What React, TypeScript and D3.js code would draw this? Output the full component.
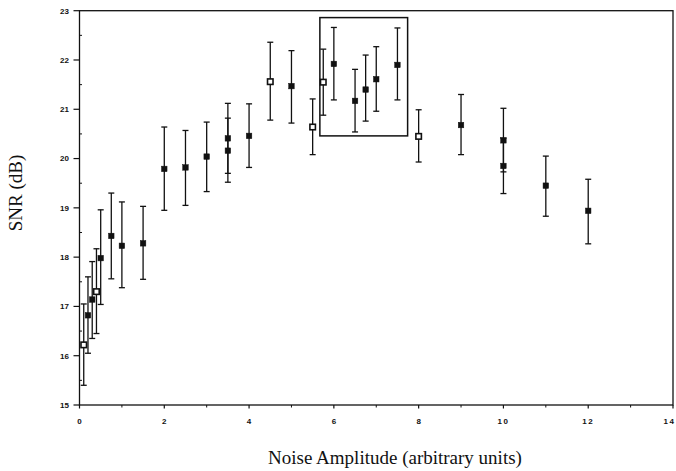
import React from "react";
import * as d3 from "d3";

const noiseAmp = [0.1, 0.2, 0.3, 0.4, 0.5, 0.75, 1, 1.5, 2, 2.5, 3, 3.5, 3.5, 4, 4.5, 5, 5.5, 5.75, 6, 6.5, 6.75, 7, 7.5, 8, 9, 10, 10, 11, 12];
const snrMean = [16.22, 16.82, 17.14, 17.3, 17.98, 18.43, 18.23, 18.28, 19.79, 19.82, 20.04, 20.41, 20.16, 20.46, 21.56, 21.47, 20.64, 21.55, 21.92, 21.17, 21.4, 21.61, 21.9, 20.45, 20.68, 20.37, 19.85, 19.45, 18.94];
const snrLow = [15.4, 16.05, 16.35, 16.45, 17.04, 17.56, 17.38, 17.55, 18.95, 19.05, 19.33, 19.7, 19.52, 19.82, 20.78, 20.72, 20.08, 20.88, 21.19, 20.54, 20.76, 20.96, 21.19, 19.93, 20.08, 19.73, 19.29, 18.83, 18.27];
const snrHigh = [17.05, 17.6, 17.91, 18.17, 18.96, 19.3, 19.12, 19.03, 20.64, 20.57, 20.74, 21.12, 20.82, 21.11, 22.36, 22.19, 21.21, 22.22, 22.66, 21.81, 22.1, 22.27, 22.65, 20.99, 21.3, 21.02, 20.41, 20.05, 19.58];
const openMarker = [0, 3, 14, 16, 17, 23];

const xTicks = [0, 2, 4, 6, 8, 10, 12, 14];
const xMinor = [1, 3, 5, 7, 9, 11, 13];
const yTicks = [15, 16, 17, 18, 19, 20, 21, 22, 23];
const yMinor = [15.5, 16.5, 17.5, 18.5, 19.5, 20.5, 21.5, 22.5];
const boxX = [5.67, 7.74];
const boxY = [20.46, 22.86];

export default function App() {
  const x = d3.scaleLinear().domain([0, 14]).range([79.5, 673]);
  const y = d3.scaleLinear().domain([15, 23]).range([405, 10.7]);
  const ink = "#111";
  const tickFont = { fontFamily: "'Liberation Sans', Arial, sans-serif", fontWeight: 700, fontSize: 8 } as const;
  const cap = 3;
  const ms = 5.5;
  return (
    <svg width={676} height={471} style={{ position: "absolute", left: 0, top: 0, background: "#fff" }}>
      {/* frame */}
      <rect x={x(0)} y={y(23)} width={x(14) - x(0)} height={y(15) - y(23)} fill="none" stroke={ink} strokeWidth={1.3} />
      {/* y ticks */}
      {yTicks.map((t) => (
        <g key={"y" + t}>
          <line x1={x(0) - 6} x2={x(0)} y1={y(t)} y2={y(t)} stroke={ink} strokeWidth={1.2} />
          <text x={69} y={y(t)} dy="0.35em" textAnchor="end" style={tickFont} fill={ink}>{t}</text>
        </g>
      ))}
      {yMinor.map((t) => (
        <line key={"ym" + t} x1={x(0)} x2={x(0) + 2.5} y1={y(t)} y2={y(t)} stroke={ink} strokeWidth={1} />
      ))}
      {/* x ticks */}
      {xTicks.map((t) => {
        const last = t === 14;
        return (
          <g key={"x" + t}>
            <line x1={x(t)} x2={x(t)} y1={y(15)} y2={y(15) + 3.5} stroke={ink} strokeWidth={1.2} />
            <text
              x={last ? 675.5 : x(t)}
              y={423.5}
              textAnchor={last ? "end" : "middle"}
              style={{ ...tickFont, letterSpacing: t >= 10 ? 1.5 : 0 }}
              fill={ink}
            >
              {t}
            </text>
          </g>
        );
      })}
      {xMinor.map((t) => (
        <line key={"xm" + t} x1={x(t)} x2={x(t)} y1={y(15)} y2={y(15) + 2.5} stroke={ink} strokeWidth={1} />
      ))}
      {/* highlight box */}
      <rect x={x(boxX[0])} y={y(boxY[1])} width={x(boxX[1]) - x(boxX[0])} height={y(boxY[0]) - y(boxY[1])} fill="none" stroke={ink} strokeWidth={1.5} />
      {/* error bars */}
      {noiseAmp.map((v, i) => {
        const cx = x(v);
        return (
          <g key={"e" + i} stroke={ink} strokeWidth={1.3}>
            <line x1={cx} x2={cx} y1={y(snrLow[i])} y2={y(snrHigh[i])} />
            <line x1={cx - cap} x2={cx + cap} y1={y(snrLow[i])} y2={y(snrLow[i])} />
            <line x1={cx - cap} x2={cx + cap} y1={y(snrHigh[i])} y2={y(snrHigh[i])} />
          </g>
        );
      })}
      {/* markers */}
      {noiseAmp.map((v, i) => {
        const open = openMarker.includes(i);
        return (
          <rect
            key={"m" + i}
            x={x(v) - ms / 2}
            y={y(snrMean[i]) - ms / 2}
            width={ms}
            height={ms}
            fill={open ? "#fff" : ink}
            stroke={ink}
            strokeWidth={open ? 1.6 : 0.5}
          />
        );
      })}
      {/* axis titles */}
      <text x={395} y={464} textAnchor="middle" fontFamily="'Liberation Serif', 'Times New Roman', serif" fontSize={19} fill={ink}>
        Noise Amplitude (arbitrary units)
      </text>
      <text transform={`translate(22,193) rotate(-90)`} textAnchor="middle" fontFamily="'Liberation Serif', 'Times New Roman', serif" fontSize={19} fill={ink}>
        SNR (dB)
      </text>
    </svg>
  );
}
